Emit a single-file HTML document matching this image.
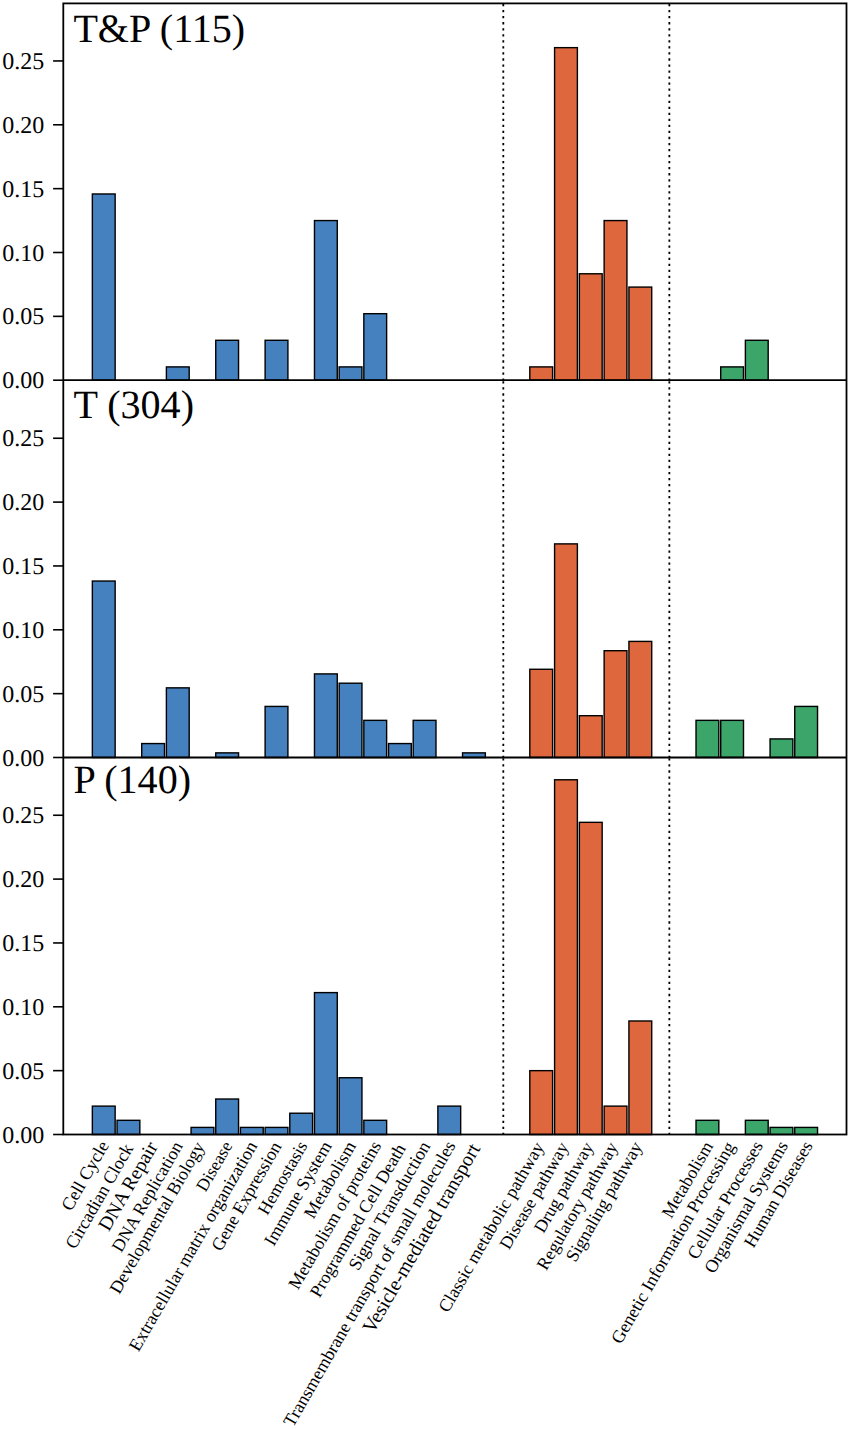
<!DOCTYPE html><html><head><meta charset="utf-8"><style>html,body{margin:0;padding:0;background:#fff;}svg{display:block;}text{font-family:"Liberation Serif",serif;fill:#000;font-kerning:none;text-rendering:geometricPrecision;}</style></head><body>
<svg width="850" height="1429" viewBox="0 0 850 1429">
<rect x="92.35" y="193.97" width="22.80" height="186.23" fill="#4581bf" stroke="#000" stroke-width="1.4"/>
<rect x="166.39" y="366.90" width="22.80" height="13.30" fill="#4581bf" stroke="#000" stroke-width="1.4"/>
<rect x="215.75" y="340.29" width="22.80" height="39.91" fill="#4581bf" stroke="#000" stroke-width="1.4"/>
<rect x="265.11" y="340.29" width="22.80" height="39.91" fill="#4581bf" stroke="#000" stroke-width="1.4"/>
<rect x="314.47" y="220.57" width="22.80" height="159.62" fill="#4581bf" stroke="#000" stroke-width="1.4"/>
<rect x="339.15" y="366.90" width="22.80" height="13.30" fill="#4581bf" stroke="#000" stroke-width="1.4"/>
<rect x="363.83" y="313.69" width="22.80" height="66.51" fill="#4581bf" stroke="#000" stroke-width="1.4"/>
<rect x="529.80" y="366.90" width="22.80" height="13.30" fill="#de673d" stroke="#000" stroke-width="1.4"/>
<rect x="554.58" y="47.65" width="22.80" height="332.55" fill="#de673d" stroke="#000" stroke-width="1.4"/>
<rect x="579.36" y="273.78" width="22.80" height="106.42" fill="#de673d" stroke="#000" stroke-width="1.4"/>
<rect x="604.14" y="220.57" width="22.80" height="159.62" fill="#de673d" stroke="#000" stroke-width="1.4"/>
<rect x="628.92" y="287.09" width="22.80" height="93.11" fill="#de673d" stroke="#000" stroke-width="1.4"/>
<rect x="720.70" y="366.90" width="22.80" height="13.30" fill="#3ba56a" stroke="#000" stroke-width="1.4"/>
<rect x="745.38" y="340.29" width="22.80" height="39.91" fill="#3ba56a" stroke="#000" stroke-width="1.4"/>
<line x1="503.30" y1="380.20" x2="503.30" y2="3.40" stroke="#000" stroke-width="1.8" stroke-dasharray="2.28 3.76" stroke-dashoffset="0.55"/>
<line x1="669.35" y1="380.20" x2="669.35" y2="3.40" stroke="#000" stroke-width="1.8" stroke-dasharray="2.28 3.76" stroke-dashoffset="0.55"/>
<line x1="53.10" y1="380.20" x2="63.30" y2="380.20" stroke="#000" stroke-width="1.6"/>
<text x="44.2" y="388.20" font-size="24.0" text-anchor="end">0.00</text>
<line x1="53.10" y1="316.35" x2="63.30" y2="316.35" stroke="#000" stroke-width="1.6"/>
<text x="44.2" y="324.35" font-size="24.0" text-anchor="end">0.05</text>
<line x1="53.10" y1="252.50" x2="63.30" y2="252.50" stroke="#000" stroke-width="1.6"/>
<text x="44.2" y="260.50" font-size="24.0" text-anchor="end">0.10</text>
<line x1="53.10" y1="188.65" x2="63.30" y2="188.65" stroke="#000" stroke-width="1.6"/>
<text x="44.2" y="196.65" font-size="24.0" text-anchor="end">0.15</text>
<line x1="53.10" y1="124.80" x2="63.30" y2="124.80" stroke="#000" stroke-width="1.6"/>
<text x="44.2" y="132.80" font-size="24.0" text-anchor="end">0.20</text>
<line x1="53.10" y1="60.95" x2="63.30" y2="60.95" stroke="#000" stroke-width="1.6"/>
<text x="44.2" y="68.95" font-size="24.0" text-anchor="end">0.25</text>
<text x="73.4" y="42.0" font-size="40.1" style="font-kerning:normal">T&amp;P (115)</text>
<rect x="92.35" y="581.04" width="22.80" height="176.46" fill="#4581bf" stroke="#000" stroke-width="1.4"/>
<rect x="141.71" y="743.57" width="22.80" height="13.93" fill="#4581bf" stroke="#000" stroke-width="1.4"/>
<rect x="166.39" y="687.85" width="22.80" height="69.65" fill="#4581bf" stroke="#000" stroke-width="1.4"/>
<rect x="215.75" y="752.86" width="22.80" height="4.64" fill="#4581bf" stroke="#000" stroke-width="1.4"/>
<rect x="265.11" y="706.42" width="22.80" height="51.08" fill="#4581bf" stroke="#000" stroke-width="1.4"/>
<rect x="314.47" y="673.91" width="22.80" height="83.59" fill="#4581bf" stroke="#000" stroke-width="1.4"/>
<rect x="339.15" y="683.20" width="22.80" height="74.30" fill="#4581bf" stroke="#000" stroke-width="1.4"/>
<rect x="363.83" y="720.35" width="22.80" height="37.15" fill="#4581bf" stroke="#000" stroke-width="1.4"/>
<rect x="388.51" y="743.57" width="22.80" height="13.93" fill="#4581bf" stroke="#000" stroke-width="1.4"/>
<rect x="413.19" y="720.35" width="22.80" height="37.15" fill="#4581bf" stroke="#000" stroke-width="1.4"/>
<rect x="462.55" y="752.86" width="22.80" height="4.64" fill="#4581bf" stroke="#000" stroke-width="1.4"/>
<rect x="529.80" y="669.27" width="22.80" height="88.23" fill="#de673d" stroke="#000" stroke-width="1.4"/>
<rect x="554.58" y="543.89" width="22.80" height="213.61" fill="#de673d" stroke="#000" stroke-width="1.4"/>
<rect x="579.36" y="715.71" width="22.80" height="41.79" fill="#de673d" stroke="#000" stroke-width="1.4"/>
<rect x="604.14" y="650.70" width="22.80" height="106.80" fill="#de673d" stroke="#000" stroke-width="1.4"/>
<rect x="628.92" y="641.41" width="22.80" height="116.09" fill="#de673d" stroke="#000" stroke-width="1.4"/>
<rect x="696.02" y="720.35" width="22.80" height="37.15" fill="#3ba56a" stroke="#000" stroke-width="1.4"/>
<rect x="720.70" y="720.35" width="22.80" height="37.15" fill="#3ba56a" stroke="#000" stroke-width="1.4"/>
<rect x="770.06" y="738.93" width="22.80" height="18.57" fill="#3ba56a" stroke="#000" stroke-width="1.4"/>
<rect x="794.74" y="706.42" width="22.80" height="51.08" fill="#3ba56a" stroke="#000" stroke-width="1.4"/>
<line x1="503.30" y1="757.50" x2="503.30" y2="380.20" stroke="#000" stroke-width="1.8" stroke-dasharray="2.28 3.76" stroke-dashoffset="0.55"/>
<line x1="669.35" y1="757.50" x2="669.35" y2="380.20" stroke="#000" stroke-width="1.8" stroke-dasharray="2.28 3.76" stroke-dashoffset="0.55"/>
<line x1="53.10" y1="757.50" x2="63.30" y2="757.50" stroke="#000" stroke-width="1.6"/>
<text x="44.2" y="765.50" font-size="24.0" text-anchor="end">0.00</text>
<line x1="53.10" y1="693.65" x2="63.30" y2="693.65" stroke="#000" stroke-width="1.6"/>
<text x="44.2" y="701.65" font-size="24.0" text-anchor="end">0.05</text>
<line x1="53.10" y1="629.80" x2="63.30" y2="629.80" stroke="#000" stroke-width="1.6"/>
<text x="44.2" y="637.80" font-size="24.0" text-anchor="end">0.10</text>
<line x1="53.10" y1="565.95" x2="63.30" y2="565.95" stroke="#000" stroke-width="1.6"/>
<text x="44.2" y="573.95" font-size="24.0" text-anchor="end">0.15</text>
<line x1="53.10" y1="502.10" x2="63.30" y2="502.10" stroke="#000" stroke-width="1.6"/>
<text x="44.2" y="510.10" font-size="24.0" text-anchor="end">0.20</text>
<line x1="53.10" y1="438.25" x2="63.30" y2="438.25" stroke="#000" stroke-width="1.6"/>
<text x="44.2" y="446.25" font-size="24.0" text-anchor="end">0.25</text>
<text x="73.4" y="417.6" font-size="40.1" style="font-kerning:normal">T (304)</text>
<rect x="92.35" y="1106.12" width="22.80" height="28.38" fill="#4581bf" stroke="#000" stroke-width="1.4"/>
<rect x="117.03" y="1120.31" width="22.80" height="14.19" fill="#4581bf" stroke="#000" stroke-width="1.4"/>
<rect x="191.07" y="1127.41" width="22.80" height="7.09" fill="#4581bf" stroke="#000" stroke-width="1.4"/>
<rect x="215.75" y="1099.03" width="22.80" height="35.47" fill="#4581bf" stroke="#000" stroke-width="1.4"/>
<rect x="240.43" y="1127.41" width="22.80" height="7.09" fill="#4581bf" stroke="#000" stroke-width="1.4"/>
<rect x="265.11" y="1127.41" width="22.80" height="7.09" fill="#4581bf" stroke="#000" stroke-width="1.4"/>
<rect x="289.79" y="1113.22" width="22.80" height="21.28" fill="#4581bf" stroke="#000" stroke-width="1.4"/>
<rect x="314.47" y="992.61" width="22.80" height="141.89" fill="#4581bf" stroke="#000" stroke-width="1.4"/>
<rect x="339.15" y="1077.74" width="22.80" height="56.76" fill="#4581bf" stroke="#000" stroke-width="1.4"/>
<rect x="363.83" y="1120.31" width="22.80" height="14.19" fill="#4581bf" stroke="#000" stroke-width="1.4"/>
<rect x="437.87" y="1106.12" width="22.80" height="28.38" fill="#4581bf" stroke="#000" stroke-width="1.4"/>
<rect x="529.80" y="1070.65" width="22.80" height="63.85" fill="#de673d" stroke="#000" stroke-width="1.4"/>
<rect x="554.58" y="779.78" width="22.80" height="354.72" fill="#de673d" stroke="#000" stroke-width="1.4"/>
<rect x="579.36" y="822.34" width="22.80" height="312.16" fill="#de673d" stroke="#000" stroke-width="1.4"/>
<rect x="604.14" y="1106.12" width="22.80" height="28.38" fill="#de673d" stroke="#000" stroke-width="1.4"/>
<rect x="628.92" y="1020.99" width="22.80" height="113.51" fill="#de673d" stroke="#000" stroke-width="1.4"/>
<rect x="696.02" y="1120.31" width="22.80" height="14.19" fill="#3ba56a" stroke="#000" stroke-width="1.4"/>
<rect x="745.38" y="1120.31" width="22.80" height="14.19" fill="#3ba56a" stroke="#000" stroke-width="1.4"/>
<rect x="770.06" y="1127.41" width="22.80" height="7.09" fill="#3ba56a" stroke="#000" stroke-width="1.4"/>
<rect x="794.74" y="1127.41" width="22.80" height="7.09" fill="#3ba56a" stroke="#000" stroke-width="1.4"/>
<line x1="503.30" y1="1134.50" x2="503.30" y2="757.50" stroke="#000" stroke-width="1.8" stroke-dasharray="2.28 3.76" stroke-dashoffset="0.55"/>
<line x1="669.35" y1="1134.50" x2="669.35" y2="757.50" stroke="#000" stroke-width="1.8" stroke-dasharray="2.28 3.76" stroke-dashoffset="0.55"/>
<line x1="53.10" y1="1134.50" x2="63.30" y2="1134.50" stroke="#000" stroke-width="1.6"/>
<text x="44.2" y="1142.50" font-size="24.0" text-anchor="end">0.00</text>
<line x1="53.10" y1="1070.65" x2="63.30" y2="1070.65" stroke="#000" stroke-width="1.6"/>
<text x="44.2" y="1078.65" font-size="24.0" text-anchor="end">0.05</text>
<line x1="53.10" y1="1006.80" x2="63.30" y2="1006.80" stroke="#000" stroke-width="1.6"/>
<text x="44.2" y="1014.80" font-size="24.0" text-anchor="end">0.10</text>
<line x1="53.10" y1="942.95" x2="63.30" y2="942.95" stroke="#000" stroke-width="1.6"/>
<text x="44.2" y="950.95" font-size="24.0" text-anchor="end">0.15</text>
<line x1="53.10" y1="879.10" x2="63.30" y2="879.10" stroke="#000" stroke-width="1.6"/>
<text x="44.2" y="887.10" font-size="24.0" text-anchor="end">0.20</text>
<line x1="53.10" y1="815.25" x2="63.30" y2="815.25" stroke="#000" stroke-width="1.6"/>
<text x="44.2" y="823.25" font-size="24.0" text-anchor="end">0.25</text>
<text x="73.4" y="792.6" font-size="40.1" style="font-kerning:normal">P (140)</text>
<rect x="63.3" y="3.4" width="783.20" height="1131.10" fill="none" stroke="#000" stroke-width="1.8"/>
<line x1="63.3" y1="380.2" x2="846.5" y2="380.2" stroke="#000" stroke-width="1.8"/>
<line x1="63.3" y1="757.5" x2="846.5" y2="757.5" stroke="#000" stroke-width="1.8"/>
<text font-size="18.11" text-anchor="end" style="font-kerning:normal" transform="translate(109.41,1145.27) rotate(-60.0)">Cell Cycle</text>
<text font-size="18.03" text-anchor="end" style="font-kerning:normal" transform="translate(133.72,1148.25) rotate(-60.0)">Circadian Clock</text>
<text font-size="19.67" text-anchor="end" style="font-kerning:normal" transform="translate(158.22,1146.63) rotate(-60.0)">DNA Repair</text>
<text font-size="17.77" text-anchor="end" style="font-kerning:normal" transform="translate(183.27,1145.89) rotate(-60.0)">DNA Replication</text>
<text font-size="17.95" text-anchor="end" style="font-kerning:normal" transform="translate(205.08,1146.14) rotate(-60.0)">Developmental Biology</text>
<text font-size="17.58" text-anchor="end" style="font-kerning:normal" transform="translate(232.92,1145.46) rotate(-60.0)">Disease</text>
<text font-size="18.01" text-anchor="end" style="font-kerning:normal" transform="translate(257.69,1145.81) rotate(-60.0)">Extracellular matrix organization</text>
<text font-size="18.01" text-anchor="end" style="font-kerning:normal" transform="translate(282.11,1146.15) rotate(-60.0)">Gene Expression</text>
<text font-size="17.65" text-anchor="end" style="font-kerning:normal" transform="translate(307.96,1145.61) rotate(-60.0)">Hemostasis</text>
<text font-size="17.96" text-anchor="end" style="font-kerning:normal" transform="translate(332.21,1145.64) rotate(-60.0)">Immune System</text>
<text font-size="17.9" text-anchor="end" style="font-kerning:normal" transform="translate(356.35,1145.80) rotate(-60.0)">Metabolism</text>
<text font-size="17.95" text-anchor="end" style="font-kerning:normal" transform="translate(381.79,1145.53) rotate(-60.0)">Metabolism of proteins</text>
<text font-size="17.86" text-anchor="end" style="font-kerning:normal" transform="translate(406.20,1148.14) rotate(-60.0)">Programmed Cell Death</text>
<text font-size="18.08" text-anchor="end" style="font-kerning:normal" transform="translate(430.80,1145.83) rotate(-60.0)">Signal Transduction</text>
<text font-size="18.07" text-anchor="end" style="font-kerning:normal" transform="translate(456.14,1145.28) rotate(-60.0)">Transmembrane transport of small molecules</text>
<text font-size="20.12" text-anchor="end" style="font-kerning:normal" transform="translate(480.72,1148.43) rotate(-60.0)">Vesicle-mediated transport</text>
<text font-size="18.0" text-anchor="end" style="font-kerning:normal" transform="translate(544.41,1146.50) rotate(-60.0)">Classic metabolic pathway</text>
<text font-size="17.79" text-anchor="end" style="font-kerning:normal" transform="translate(569.01,1146.60) rotate(-60.0)">Disease pathway</text>
<text font-size="17.75" text-anchor="end" style="font-kerning:normal" transform="translate(594.00,1146.57) rotate(-60.0)">Drug pathway</text>
<text font-size="17.82" text-anchor="end" style="font-kerning:normal" transform="translate(618.30,1146.59) rotate(-60.0)">Regulatory pathway</text>
<text font-size="18.07" text-anchor="end" style="font-kerning:normal" transform="translate(642.86,1146.12) rotate(-60.0)">Signaling pathway</text>
<text font-size="17.76" text-anchor="end" style="font-kerning:normal" transform="translate(713.63,1145.79) rotate(-60.0)">Metabolism</text>
<text font-size="18.07" text-anchor="end" style="font-kerning:normal" transform="translate(735.55,1146.12) rotate(-60.0)">Genetic Information Processing</text>
<text font-size="18.06" text-anchor="end" style="font-kerning:normal" transform="translate(763.47,1145.35) rotate(-60.0)">Cellular Processes</text>
<text font-size="18.11" text-anchor="end" style="font-kerning:normal" transform="translate(788.58,1145.36) rotate(-60.0)">Organismal Systems</text>
<text font-size="17.84" text-anchor="end" style="font-kerning:normal" transform="translate(813.12,1145.41) rotate(-60.0)">Human Diseases</text>
</svg></body></html>
